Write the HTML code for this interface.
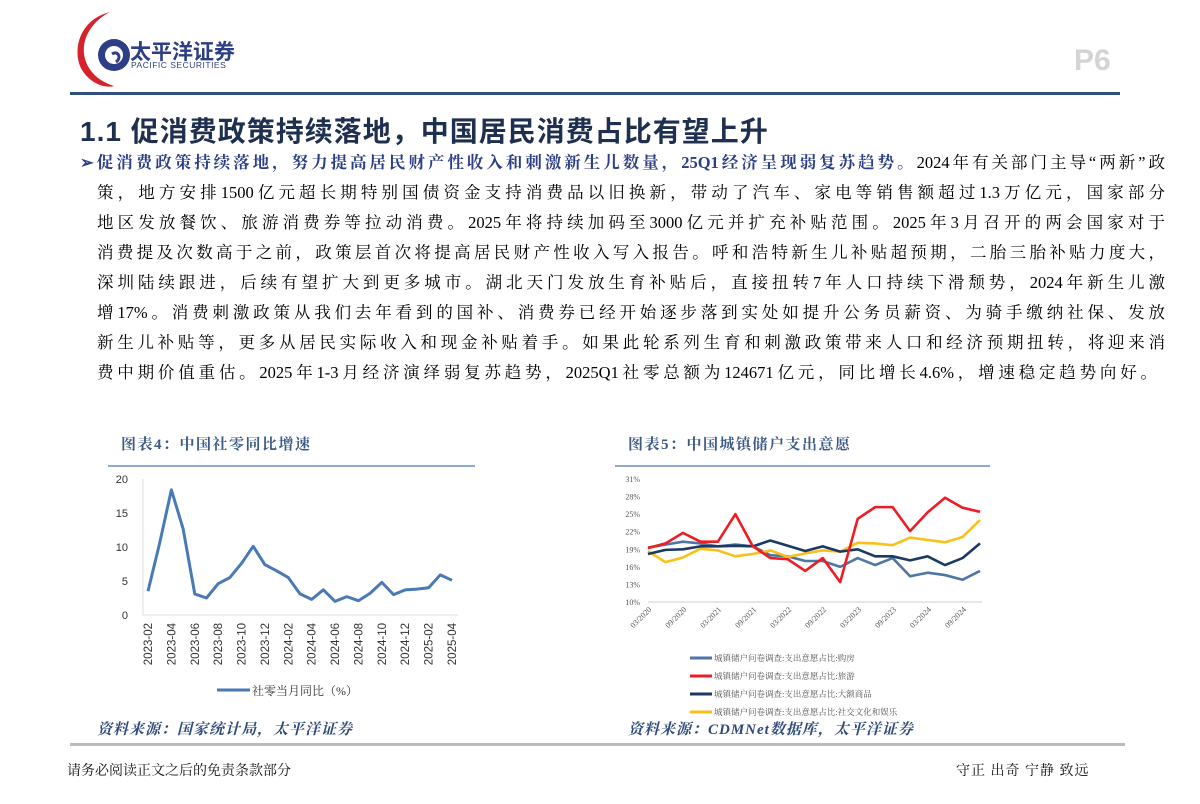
<!DOCTYPE html>
<html><head><meta charset="utf-8">
<style>
body{margin:0;width:1200px;height:804px;background:#fff;position:relative;overflow:hidden;font-family:"Liberation Serif","Noto Serif CJK SC",serif;color:#111}
.abs{position:absolute}
.line{position:absolute;left:80px;width:1085px;font-size:16.5px;height:30px;line-height:30px;text-align:justify;text-align-last:justify;white-space:nowrap;font-family:"Liberation Serif","Noto Serif CJK SC",serif;color:#000}
.ct{font-size:15px;color:#3b5a86;font-family:"Liberation Serif","Noto Serif CJK SC",serif;letter-spacing:1.5px;font-weight:bold}
.src{font-size:15px;color:#2d4a7a;font-style:italic;font-weight:bold;font-family:"Liberation Serif","Noto Serif CJK SC",serif;letter-spacing:1px}
</style></head><body>
<svg class="abs" style="left:70px;top:8px" width="64" height="84">
<path d="M40 4 C8 12 2 44 12 62 C22 78 38 80 44 78 C24 72 12 56 14 38 C16 22 28 10 40 4Z" fill="#d7222b"/>
<circle cx="44" cy="47" r="16" fill="#2c3f86"/>
<circle cx="44" cy="47" r="9" fill="#fff"/>
<path d="M42 46 C48 42 52 50 46 54" stroke="#2c3f86" stroke-width="3" fill="none"/>
</svg>
<div class="abs" style="left:130px;top:36px;font-size:21px;font-weight:bold;color:#2c3f86;font-family:'Liberation Sans','Noto Sans CJK SC',sans-serif">太平洋证券</div>
<div class="abs" style="left:131px;top:60px;font-size:8.5px;color:#2c3f86;font-family:'Liberation Sans',sans-serif;letter-spacing:.5px">PACIFIC SECURITIES</div>
<div class="abs" style="left:1074px;top:44px;font-size:30px;font-weight:bold;color:#d4d4d4;font-family:'Liberation Sans',sans-serif">P6</div>
<div class="abs" style="left:70px;top:92px;width:1050px;height:3px;background:#2f4f7f"></div>
<div class="abs" style="left:80px;top:110px;font-size:28px;font-weight:bold;color:#1f2f4f;font-family:'Liberation Sans','Noto Sans CJK SC',sans-serif;letter-spacing:1px">1.1 促消费政策持续落地，中国居民消费占比有望上升</div>
<div>
<div class="line" style="top:148px"><span style="color:#2c3f86;font-weight:bold">➢促消费政策持续落地，努力提高居民财产性收入和刺激新生儿数量，25Q1经济呈现弱复苏趋势。</span>2024年有关部门主导“两新”政</div>
<div class="line" style="top:178px;left:97px;width:1068px">策，地方安排1500亿元超长期特别国债资金支持消费品以旧换新，带动了汽车、家电等销售额超过1.3万亿元，国家部分</div>
<div class="line" style="top:208px;left:97px;width:1068px">地区发放餐饮、旅游消费券等拉动消费。2025年将持续加码至3000亿元并扩充补贴范围。2025年3月召开的两会国家对于</div>
<div class="line" style="top:238px;left:97px;width:1068px">消费提及次数高于之前，政策层首次将提高居民财产性收入写入报告。呼和浩特新生儿补贴超预期，二胎三胎补贴力度大，</div>
<div class="line" style="top:268px;left:97px;width:1068px">深圳陆续跟进，后续有望扩大到更多城市。湖北天门发放生育补贴后，直接扭转7年人口持续下滑颓势，2024年新生儿激</div>
<div class="line" style="top:298px;left:97px;width:1068px">增17%。消费刺激政策从我们去年看到的国补、消费券已经开始逐步落到实处如提升公务员薪资、为骑手缴纳社保、发放</div>
<div class="line" style="top:328px;left:97px;width:1068px">新生儿补贴等，更多从居民实际收入和现金补贴着手。如果此轮系列生育和刺激政策带来人口和经济预期扭转，将迎来消</div>
<div class="line" style="top:358px;left:97px;width:1060px">费中期价值重估。2025年1-3月经济演绎弱复苏趋势，2025Q1社零总额为124671亿元，同比增长4.6%，增速稳定趋势向好。</div>
</div>
<div class="abs ct" style="left:121px;top:433px">图表4：中国社零同比增速</div>
<div class="abs" style="left:108px;top:465px;width:367px;height:2px;background:#8eaad0"></div>
<div class="abs ct" style="left:628px;top:433px">图表5：中国城镇储户支出意愿</div>
<div class="abs" style="left:615px;top:465px;width:375px;height:2px;background:#8eaad0"></div>
<svg id="c4" class="abs" style="left:90px;top:460px" width="400" height="250"></svg>
<svg id="c5" class="abs" style="left:600px;top:460px" width="400" height="260"></svg>
<div class="abs src" style="left:97px;top:718px">资料来源：国家统计局，太平洋证券</div>
<div class="abs src" style="left:628px;top:718px">资料来源：CDMNet数据库，太平洋证券</div>
<div class="abs" style="left:70px;top:743px;width:1055px;height:3px;background:#bbb"></div>
<div class="abs" style="left:67px;top:760px;font-size:14px">请务必阅读正文之后的免责条款部分</div>
<div class="abs" style="left:956px;top:760px;font-size:14px;letter-spacing:1px">守正 出奇 宁静 致远</div>
<script>
const NS="http://www.w3.org/2000/svg";
function mk(p,t,a,txt){const e=document.createElementNS(NS,t);for(const k in a)e.setAttribute(k,a[k]);if(txt!=null)e.textContent=txt;p.appendChild(e);return e;}
const c4Months=["2023-02","2023-03","2023-04","2023-05","2023-06","2023-07","2023-08","2023-09","2023-10","2023-11","2023-12","2024-01","2024-02","2024-03","2024-04","2024-05","2024-06","2024-07","2024-08","2024-09","2024-10","2024-11","2024-12","2025-01","2025-02","2025-03","2025-04"];
const c4Values=[3.5,10.6,18.4,12.7,3.1,2.5,4.6,5.5,7.6,10.1,7.4,6.5,5.5,3.1,2.3,3.7,2.0,2.7,2.1,3.2,4.8,3.0,3.7,3.8,4.0,5.9,5.1];
const c4Ticks=[0,5,10,15,20];
const c4Labels=["2023-02","2023-04","2023-06","2023-08","2023-10","2023-12","2024-02","2024-04","2024-06","2024-08","2024-10","2024-12","2025-02","2025-04"];
(function(){
const s=document.getElementById('c4');
const x0=58,x1=362,yb=155,yt=19;
const X=i=>x0+(x1-x0)*i/(c4Months.length-1);
const Y=v=>yb-(yb-yt)*v/20;
let ax=mk(s,'line',{x1:53,y1:yt,x2:53,y2:yb,stroke:'#ddd'});

let bx=mk(s,'line',{x1:53,y1:yb,x2:368,y2:yb,stroke:'#ddd'});

c4Ticks.forEach(t=>{const e=mk(s,'text',{x:38,y:Y(t)+4,'text-anchor':'end','font-size':11,fill:'#333','font-family':'Liberation Sans'},t);
});
c4Labels.forEach(l=>{const i=c4Months.indexOf(l);const e=mk(s,'text',{transform:`translate(${X(i)+4},${yb+8}) rotate(-90)`,'text-anchor':'end','font-size':11.5,fill:'#333','font-family':'Liberation Sans'},l);
});
const p=mk(s,'polyline',{points:c4Values.map((v,i)=>X(i)+','+Y(v)).join(' '),fill:'none',stroke:'#4a7ab5','stroke-width':3,'stroke-linejoin':'round'});

const ll=mk(s,'line',{x1:127,y1:230,x2:160,y2:230,stroke:'#4a7ab5','stroke-width':3});

const lt=mk(s,'text',{x:162,y:235,'font-size':12,fill:'#333','font-family':'Liberation Serif, Noto Serif CJK SC, serif'},'社零当月同比（%）');

})();
const c5Quarters=["03/2020","06/2020","09/2020","12/2020","03/2021","06/2021","09/2021","12/2021","03/2022","06/2022","09/2022","12/2022","03/2023","06/2023","09/2023","12/2023","03/2024","06/2024","09/2024","12/2024"];
const c5Shopping=[19.3,19.8,20.3,20,19.5,19.8,19.5,18,17.8,17,17,16,17.5,16.3,17.5,14.4,15,14.6,13.8,15.3];
const c5Travel=[19.2,20,21.8,20.3,20.3,25,19.5,17.5,17.3,15.3,17.5,13.4,24.2,26.2,26.2,22.1,25.3,27.8,26.1,25.4];
const c5BigItems=[18.2,18.9,19,19.5,19.5,19.6,19.5,20.5,19.6,18.7,19.5,18.6,19,17.8,17.8,17.1,17.8,16.3,17.5,20];
const c5Social=[18.7,16.8,17.6,19.1,18.8,17.8,18.2,18.8,17.7,18.3,18.8,18.6,20.1,20.0,19.7,21,20.6,20.2,21.1,24];
const c5Ticks=[10,13,16,19,22,25,28,31];
const c5Labels=["03/2020","09/2020","03/2021","09/2021","03/2022","09/2022","03/2023","09/2023","03/2024","09/2024"];
const c5Names=["城镇储户问卷调查:支出意愿占比:购房","城镇储户问卷调查:支出意愿占比:旅游","城镇储户问卷调查:支出意愿占比:大额商品","城镇储户问卷调查:支出意愿占比:社交文化和娱乐"];
(function(){
const s=document.getElementById('c5');
const x0=48,x1=380,yb=142,yt=19;
const X=i=>x0+(x1-x0)*i/(c5Quarters.length-1);
const Y=v=>yb-(yb-yt)*(v-10)/21;
const bx=mk(s,'line',{x1:48,y1:yb,x2:382,y2:yb,stroke:'#ccc'});

c5Ticks.forEach(t=>{const e=mk(s,'text',{x:40,y:Y(t)+3,'text-anchor':'end','font-size':8,fill:'#555','font-family':'Liberation Serif'},t+'%');
});
c5Labels.forEach(l=>{const i=c5Quarters.indexOf(l);const e=mk(s,'text',{transform:`translate(${X(i)+4},${yb+8}) rotate(-45)`,'text-anchor':'end','font-size':8,fill:'#555','font-family':'Liberation Serif'},l);
});
const series=[[c5Shopping,'#4f74a6','shopping-line'],[c5Travel,'#ee1c25','travel-line'],[c5BigItems,'#1b3a63','big-items-line'],[c5Social,'#f7c11a','social-culture-line']];
const order=[0,3,2,1];
order.forEach(k=>{const [d,c,n]=series[k];const p=mk(s,'polyline',{points:d.map((v,i)=>X(i)+','+Y(v)).join(' '),fill:'none',stroke:c,'stroke-width':2.6,'stroke-linejoin':'round'});
});
series.forEach(([d,c,n],k)=>{const y=198+k*18;
const l=mk(s,'line',{x1:90,y1:y,x2:112,y2:y,stroke:c,'stroke-width':3});

const t=mk(s,'text',{x:114,y:y+3,'font-size':8.5,fill:'#555','font-family':'Liberation Serif, Noto Serif CJK SC, serif'},c5Names[k]);
});
})();
</script>
</body></html>
